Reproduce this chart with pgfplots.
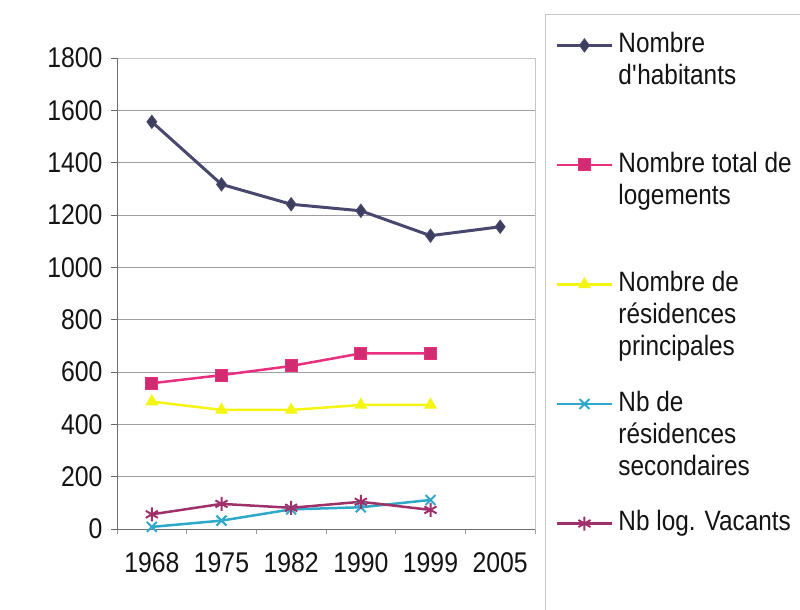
\documentclass[border=0pt]{standalone}
\usepackage{pgfplots}
\pgfplotsset{compat=1.18}
\usepackage{fontspec}
\setmainfont{Liberation Sans}[FakeStretch=0.87]
\definecolor{habcol}{RGB}{72,72,110}
\definecolor{logcol}{RGB}{232,48,126}
\definecolor{princol}{RGB}{245,245,20}
\definecolor{seccol}{RGB}{46,168,200}
\definecolor{vaccol}{RGB}{160,48,106}
\begin{document}
\begin{tikzpicture}
\path[use as bounding box] (0,0) rectangle (800pt,610pt);
\begin{axis}[
  at={(117pt,81pt)}, anchor=south west,
  scale only axis, width=418pt, height=471pt,
  xmin=0.5, xmax=6.5, ymin=0, ymax=1800,
  ytick={0,200,...,1800},
  xtick={1,...,6}, xticklabels={1968,1975,1982,1990,1999,2005},
  minor xtick={0.5,1.5,...,6.5},
  major x tick style={draw=none},
  minor x tick style={draw=gray!80, line width=0.8pt},
  y tick style={draw=gray!80!black, line width=0.8pt},
  major tick length=6pt, minor tick length=5pt,
  tick align=outside,
  xtick pos=bottom, ytick pos=left,
  ymajorgrids, grid style={gray!75, line width=0.8pt},
  axis line style={draw=gray!45, line width=0.8pt},
  tick label style={font=\fontsize{28.5}{32}\selectfont, text=black!92},
  /pgf/number format/assume math mode=true,
  /pgf/number format/1000 sep={},
  xticklabel style={yshift=-14pt},
  yticklabel style={xshift=-5pt},
  legend cell align=left,
  legend style={at={(1.0239,1.0934)}, anchor=north west,
    draw=gray!45, line width=1pt, inner xsep=10pt, inner ysep=18pt,
    row sep=97.75pt, column sep=5pt,
    nodes={inner sep=0pt},
    font=\fontsize{28}{32}\selectfont, text=black!92},
  legend image code/.code={\draw[mark repeat=2,mark phase=2,#1,yshift=-2pt] plot coordinates {(0pt,0pt)(27.5pt,0pt)(55pt,0pt)};},
]
\draw[gray!85!black, line width=1pt] (rel axis cs:0,1) -- (rel axis cs:0,0) -- (rel axis cs:1,0);
\addplot[habcol, line width=3pt, mark=diamond*, mark size=6.5pt, mark options={fill=habcol!85!black, line width=1pt}]
  coordinates {(1,1556) (2,1317) (3,1241) (4,1216) (5,1121) (6,1155)};
\addlegendentry{\parbox[t]{220pt}{Nombre\\d\textquotesingle habitants}}
\addplot[logcol, line width=2.5pt, mark=square*, mark size=6pt, mark options={fill=logcol!90!black, line width=1pt}]
  coordinates {(1,557) (2,588) (3,623) (4,671) (5,671)};
\addlegendentry{\parbox[t]{220pt}{Nombre total de\\logements}}
\addplot[princol, line width=2.5pt, mark=triangle*, mark size=6.5pt, mark options={fill=princol, line width=1pt}]
  coordinates {(1,487) (2,455) (3,455) (4,474) (5,474)};
\addlegendentry{\parbox[t]{220pt}{Nombre de\\résidences\\principales}}
\addplot[seccol, line width=2.5pt, mark=x, mark size=7pt, mark options={line width=2pt}]
  coordinates {(1,8) (2,32) (3,75) (4,83) (5,111)};
\addlegendentry{\parbox[t]{220pt}{Nb de\\résidences\\secondaires}}
\addplot[vaccol, line width=2.5pt, mark=asterisk, mark size=7pt, mark options={line width=2pt}]
  coordinates {(1,56) (2,96) (3,81) (4,104) (5,73)};
\addlegendentry{\parbox[t]{220pt}{Nb log. Vacants}}
\addlegendimage{empty legend}
\addlegendentry{}
\end{axis}
\end{tikzpicture}
\end{document}
